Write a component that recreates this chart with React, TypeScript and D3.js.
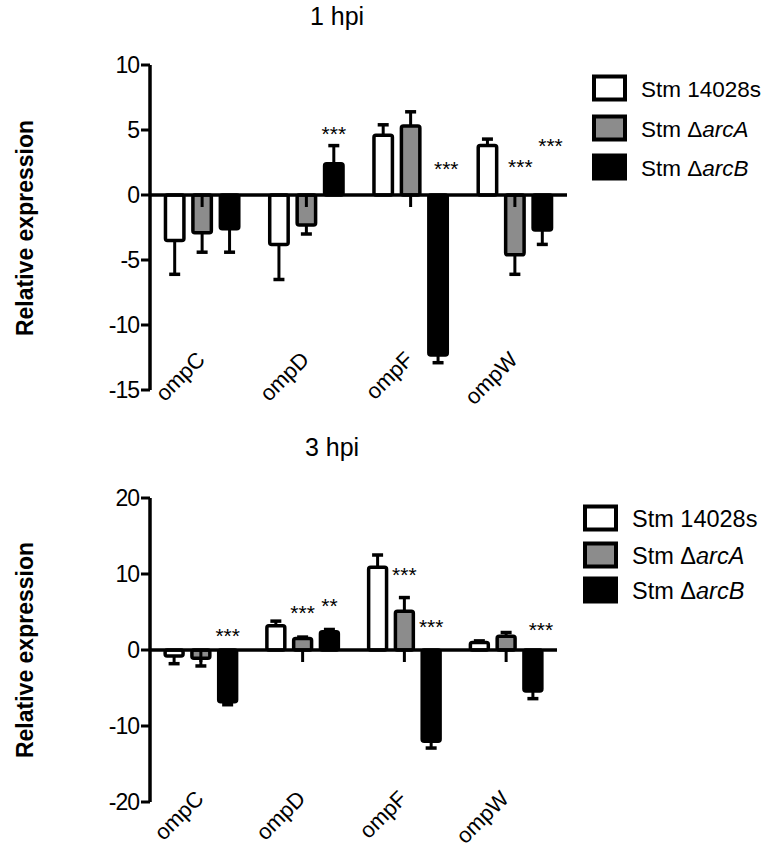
import React from "react";
import * as d3 from "d3";

// ---------- data ----------
const genes = ["ompC", "ompD", "ompF", "ompW"];
const strainBase = ["Stm ", "Stm ", "Stm "];
const strainDelta = ["", "Δ", "Δ"];
const strainSuffix = ["14028s", "arcA", "arcB"];
const strainFills = ["#ffffff", "#8c8c8c", "#000000"];

// 1 hpi
const hpi1Wt = [-3.5, -3.8, 4.6, 3.8];
const hpi1WtErr = [2.6, 2.7, 0.8, 0.5];
const hpi1ArcA = [-2.9, -2.3, 5.3, -4.6];
const hpi1ArcAErr = [1.5, 0.7, 1.1, 1.5];
const hpi1ArcB = [-2.6, 2.4, -12.3, -2.7];
const hpi1ArcBErr = [1.8, 1.4, 0.6, 1.1];
const hpi1Stars = [
  { gene: "ompD", slot: 2, y: 5.0, label: "***" },
  { gene: "ompF", slot: 2.3, y: 2.3, label: "***" },
  { gene: "ompW", slot: 1.2, y: 2.5, label: "***" },
  { gene: "ompW", slot: 2.3, y: 4.1, label: "***" },
];
const hpi1Ticks = [-15, -10, -5, 0, 5, 10];

// 3 hpi
const hpi3Wt = [-0.8, 3.2, 10.9, 1.0];
const hpi3WtErr = [1.0, 0.6, 1.6, 0.2];
const hpi3ArcA = [-1.1, 1.5, 5.1, 1.8];
const hpi3ArcAErr = [1.0, 0.2, 1.8, 0.5];
const hpi3ArcB = [-6.8, 2.4, -12.0, -5.4];
const hpi3ArcBErr = [0.4, 0.3, 0.9, 1.0];
const hpi3Stars = [
  { gene: "ompC", slot: 2, y: 2.4, label: "***" },
  { gene: "ompD", slot: 1, y: 5.4, label: "***" },
  { gene: "ompD", slot: 2, y: 6.3, label: "**" },
  { gene: "ompF", slot: 1, y: 10.4, label: "***" },
  { gene: "ompF", slot: 2, y: 3.6, label: "***" },
  { gene: "ompW", slot: 2.3, y: 3.2, label: "***" },
];
const hpi3Ticks = [-20, -10, 0, 10, 20];

const FONT = "'Liberation Sans', Arial, sans-serif";
const SW = 3.5;

type Star = { gene: string; slot: number; y: number; label: string };

function Panel(props: {
  title: string;
  titleX: number;
  titleY: number;
  means: number[][];
  errs: number[][];
  stars: Star[];
  ticks: number[];
  yDomain: [number, number];
  yRange: [number, number];
  xRange: [number, number];
  labelY: number;
  ylabelY: number;
  legendBoxX: number;
  legendTextX: number;
  legendYs: number[];
  legendFont: number;
}) {
  const {
    title, titleX, titleY, means, errs, stars, ticks, yDomain, yRange, xRange,
    labelY, ylabelY, legendBoxX, legendTextX, legendYs, legendFont,
  } = props;
  const y = d3.scaleLinear().domain(yDomain).range(yRange);
  const x0 = d3.scaleBand<string>().domain(genes).range(xRange).padding(0);
  const slots = [0, 1, 2];
  const x1 = d3
    .scaleBand<number>()
    .domain(slots)
    .range([0, x0.bandwidth()])
    .paddingInner(0.2)
    .paddingOuter(0.5);
  const bw = x1.bandwidth();
  const step = x1.step();
  const axisX = xRange[0];
  const y0 = y(0);
  const slotCenter = (g: string, s: number) =>
    (x0(g) as number) + (x1(0) as number) + bw / 2 + s * step;

  return (
    <g>
      <text x={titleX} y={titleY} fontFamily={FONT} fontSize={25} textAnchor="middle">
        {title}
      </text>
      <text
        transform={`translate(33,${ylabelY}) rotate(-90)`}
        fontFamily={FONT}
        fontSize={23}
        fontWeight="bold"
        textAnchor="middle"
      >
        Relative expression
      </text>
      {/* bars */}
      {genes.map((g, gi) =>
        slots.map((s) => {
          const v = means[s][gi];
          const e = errs[s][gi];
          const cx = slotCenter(g, s);
          const yv = y(v);
          const ye = y(v >= 0 ? v + e : v - e);
          return (
            <g key={`${g}-${s}`}>
              <line x1={cx} x2={cx} y1={yv} y2={ye} stroke="#000" strokeWidth={3} />
              <line x1={cx - 5.5} x2={cx + 5.5} y1={ye} y2={ye} stroke="#000" strokeWidth={3.5} />
              <rect
                x={cx - bw / 2 + SW / 2}
                width={bw - SW}
                y={Math.min(yv, y0)}
                height={Math.abs(yv - y0)}
                fill={strainFills[s]}
                stroke="#000"
                strokeWidth={SW}
                rx={2}
              />
              {s === 1 && (
                <line x1={cx} x2={cx} y1={y0} y2={y0 + 12} stroke="#000" strokeWidth={3} />
              )}
            </g>
          );
        })
      )}
      {/* axes */}
      <line x1={axisX} x2={axisX} y1={y(yDomain[1])} y2={y(yDomain[0])} stroke="#000" strokeWidth={3.5} />
      {ticks.map((t) => (
        <g key={t}>
          <line x1={axisX - 9} x2={axisX} y1={y(t)} y2={y(t)} stroke="#000" strokeWidth={3} />
          <text
            x={axisX - 11}
            y={y(t) + 8}
            fontFamily={FONT}
            fontSize={23}
            textAnchor="end"
            letterSpacing={-1}
          >
            {t}
          </text>
        </g>
      ))}
      <line x1={axisX} x2={xRange[1]} y1={y0} y2={y0} stroke="#000" strokeWidth={3.5} />
      {/* x labels */}
      {genes.map((g) => (
        <text
          key={g}
          transform={`translate(${(x0(g) as number) + x0.bandwidth() / 2 + 4},${labelY}) rotate(-45)`}
          fontFamily={FONT}
          fontSize={22}
          textAnchor="end"
        >
          {g}
        </text>
      ))}
      {/* stars */}
      {stars.map((st, i) => (
        <text
          key={i}
          x={slotCenter(st.gene, st.slot)}
          y={y(st.y) + 11}
          fontFamily={FONT}
          fontSize={21}
          textAnchor="middle"
        >
          {st.label}
        </text>
      ))}
      {/* legend */}
      {slots.map((s) => (
        <g key={`lg${s}`}>
          <rect
            x={legendBoxX + 2}
            y={legendYs[s] - 11.5}
            width={31}
            height={23}
            fill={strainFills[s]}
            stroke="#000"
            strokeWidth={4}
          />
          <text x={legendTextX} y={legendYs[s] + 8.5} fontFamily={FONT} fontSize={legendFont}>
            {strainBase[s]}
            {strainDelta[s]}
            {s === 0 ? (
              <tspan>{strainSuffix[s]}</tspan>
            ) : (
              <tspan fontStyle="italic">{strainSuffix[s]}</tspan>
            )}
          </text>
        </g>
      ))}
    </g>
  );
}

export default function App() {
  return (
    <svg
      width={763}
      height={848}
      style={{ position: "absolute", left: 0, top: 0, background: "#fff" }}
    >
      <rect width={763} height={848} fill="#fff" />
      <Panel
        title="1 hpi"
        titleX={337}
        titleY={25}
        means={[hpi1Wt, hpi1ArcA, hpi1ArcB]}
        errs={[hpi1WtErr, hpi1ArcAErr, hpi1ArcBErr]}
        stars={hpi1Stars}
        ticks={hpi1Ticks}
        yDomain={[-15, 10]}
        yRange={[390, 65]}
        xRange={[150, 567]}
        labelY={361}
        ylabelY={228}
        legendBoxX={592}
        legendTextX={641}
        legendYs={[88, 128, 167]}
        legendFont={22.5}
      />
      <Panel
        title="3 hpi"
        titleX={332}
        titleY={456}
        means={[hpi3Wt, hpi3ArcA, hpi3ArcB]}
        errs={[hpi3WtErr, hpi3ArcAErr, hpi3ArcBErr]}
        stars={hpi3Stars}
        ticks={hpi3Ticks}
        yDomain={[-20, 20]}
        yRange={[802, 498]}
        xRange={[150, 557]}
        labelY={800}
        ylabelY={650}
        legendBoxX={583}
        legendTextX={632}
        legendYs={[518, 555, 590]}
        legendFont={23.5}
      />
    </svg>
  );
}
